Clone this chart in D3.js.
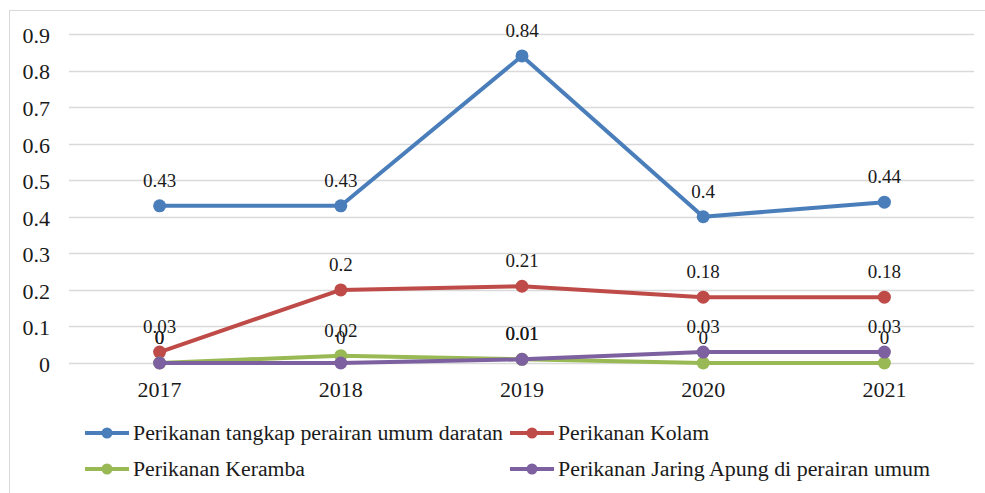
<!DOCTYPE html>
<html>
<head>
<meta charset="utf-8">
<script src="https://cdn.jsdelivr.net/npm/d3@7"></script>
<style>
  body { margin: 0; background: #fff; }
  svg text { font-family: "Liberation Serif", "Times New Roman", serif; fill: #1a1a1a; }
</style>
</head>
<body>
<svg id="chart" width="985" height="493"></svg>
<script>
// data
var years = ["2017", "2018", "2019", "2020", "2021"];
var tangkap = [0.43, 0.43, 0.84, 0.4, 0.44];
var kolam = [0.03, 0.2, 0.21, 0.18, 0.18];
var keramba = [0, 0.02, 0.01, 0, 0];
var jaring = [0, 0, 0.01, 0.03, 0.03];
var yTicks = [0, 0.1, 0.2, 0.3, 0.4, 0.5, 0.6, 0.7, 0.8, 0.9];

var series = [
	{ name: "Perikanan tangkap perairan umum daratan", values: tangkap, color: "#4a7ebb" },
	{ name: "Perikanan Kolam", values: kolam, color: "#be4b48" },
	{ name: "Perikanan Keramba", values: keramba, color: "#98b954" },
	{ name: "Perikanan Jaring Apung di perairan umum", values: jaring, color: "#7d60a0" }
];

var serif = "'Liberation Serif', 'Times New Roman', serif";
var svg = d3.select("#chart");

// outer frame (runs off the right and bottom edges like the source)
svg.append("rect")
	.attr("x", 9.5).attr("y", 10.5)
	.attr("width", 1000).attr("height", 500)
	.attr("fill", "none")
	.attr("stroke", "#d9d9d9");

var x = d3.scaleBand().domain(years).range([69, 975]);
var y = d3.scaleLinear().domain([0, 0.9]).range([363, 34]);

// gridlines
svg.append("g")
	.selectAll("line")
	.data(yTicks)
	.enter()
	.append("line")
	.attr("x1", 69).attr("x2", 974)
	.attr("y1", function (d) { return Math.round(y(d)) + 0.5; })
	.attr("y2", function (d) { return Math.round(y(d)) + 0.5; })
	.attr("stroke", "#d9d9d9")
	.attr("stroke-width", 1.5);

// y axis labels
var yAxis = d3.axisLeft(y).tickValues(yTicks).tickSize(0).tickPadding(0)
	.tickFormat(function (d) { return d === 0 ? "0" : d3.format(".1f")(d); });
var gy = svg.append("g")
	.attr("transform", "translate(50,0)")
	.call(yAxis)
	.attr("font-family", serif)
	.attr("font-size", 22);
gy.select(".domain").remove();
gy.selectAll("text")
	.attr("dy", "0.38em")
	.attr("fill", "#1a1a1a");

// x axis labels
var xAxis = d3.axisBottom(x).tickSize(0).tickPadding(0);
var gx = svg.append("g")
	.attr("transform", "translate(0,397)")
	.call(xAxis)
	.attr("font-family", serif)
	.attr("font-size", 22);
gx.select(".domain").remove();
gx.selectAll("text")
	.attr("dy", 0)
	.attr("y", 0)
	.attr("fill", "#1a1a1a");

var cx = function (i) { return x(years[i]) + x.bandwidth() / 2; };

var line = d3.line()
	.x(function (d, i) { return cx(i); })
	.y(function (d) { return y(d); });

series.forEach(function (s) {
	var g = svg.append("g");
	g.append("path")
		.datum(s.values)
		.attr("d", line)
		.attr("fill", "none")
		.attr("stroke", s.color)
		.attr("stroke-width", 4)
		.attr("stroke-linejoin", "round");
	g.selectAll("circle")
		.data(s.values)
		.enter()
		.append("circle")
		.attr("cx", function (d, i) { return cx(i); })
		.attr("cy", function (d) { return y(d); })
		.attr("r", 6.5)
		.attr("fill", s.color);
});

// value labels drawn after all lines
series.forEach(function (s) {
	svg.append("g")
		.selectAll("text")
		.data(s.values)
		.enter()
		.append("text")
		.attr("x", function (d, i) { return cx(i); })
		.attr("y", function (d) { return y(d) - 19; })
		.attr("text-anchor", "middle")
		.style("font-size", "19px")
		.text(function (d) { return d; });
});

// legend
var legendPos = [[85, 433], [510, 433], [85, 469], [510, 469]];
var legendWidth = [370, 151, 172, 372];
series.forEach(function (s, i) {
	var lg = svg.append("g").attr("transform", "translate(" + legendPos[i][0] + "," + legendPos[i][1] + ")");
	lg.append("line")
		.attr("x1", 0).attr("x2", 44)
		.attr("y1", 0).attr("y2", 0)
		.attr("stroke", s.color)
		.attr("stroke-width", 4);
	lg.append("circle")
		.attr("cx", 22).attr("cy", 0).attr("r", 5.5)
		.attr("fill", s.color);
	lg.append("text")
		.attr("x", 48).attr("y", 7)
		.attr("textLength", legendWidth[i])
		.attr("lengthAdjust", "spacingAndGlyphs")
		.style("font-size", "20px")
		.text(s.name);
});
</script>
</body>
</html>
